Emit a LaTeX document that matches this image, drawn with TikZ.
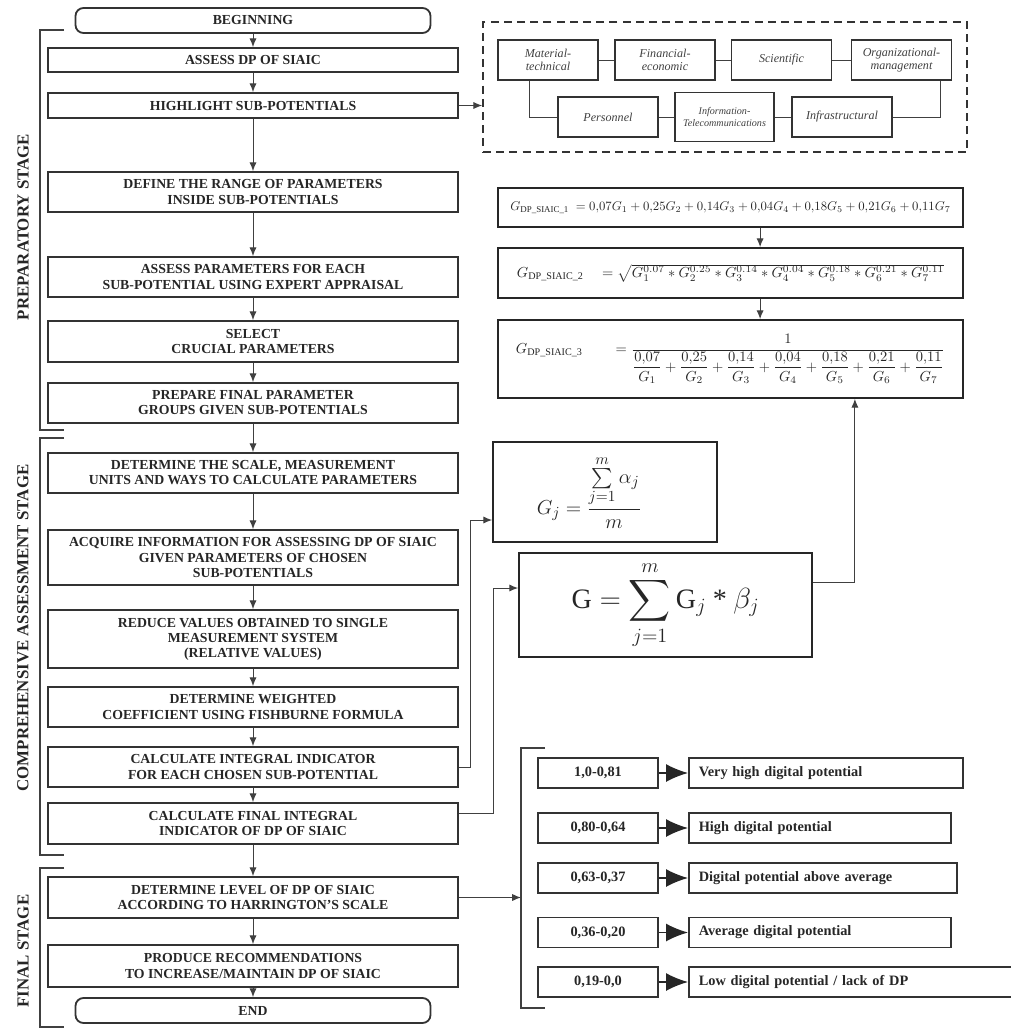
\documentclass[tikz,border=0pt]{standalone}
\usepackage{amsmath}
\usepackage{graphicx}
\usepackage{fontspec}
\setmainfont{Liberation Serif}
\usetikzlibrary{arrows.meta}

\begin{document}
\begin{tikzpicture}[x=0.25mm, y=-0.25mm,
	stepbox/.style={draw=black!80, line width=1.3pt, fill=white, text=black!85, align=center, inner sep=1pt, minimum width=102.5mm, font=\fontsize{9.8}{10.7}\selectfont\bfseries},
	termbox/.style={stepbox, rounded corners=2mm, minimum width=88.75mm, minimum height=6.25mm},
	flow/.style={draw=black!75, line width=0.7pt, -{Latex[length=2.2mm,width=1.8mm]}},
	link/.style={draw=black!75, line width=0.7pt},
	bracket/.style={draw=black!75, line width=1.1pt},
	subbox/.style={draw=black!80, line width=1.1pt, align=center, inner xsep=1pt, text=black!75, minimum width=25mm, font=\fontsize{8.6}{9.2}\selectfont\itshape},
	formbox/.style={draw=black!85, line width=1.3pt, minimum width=116.25mm, text=black!85},
	stage/.style={rotate=90, text=black!85, font=\fontsize{12}{14}\selectfont\bfseries},
	rangebox/.style={draw=black!80, line width=1.1pt, minimum width=30mm, minimum height=7.5mm, text=black!85, font=\fontsize{10.2}{12}\selectfont\bfseries},
	descbox/.style={draw=black!80, line width=1.1pt, minimum height=7.5mm, inner xsep=2.5mm, align=left, anchor=west, text=black!85, font=\fontsize{10.2}{12}\selectfont\bfseries},
	bigtip/.style={draw=black!85, line width=1pt, -{Latex[length=5.5mm,width=4.5mm]}}
	]
	\useasboundingbox (0,0) rectangle (1011,1030);
	\node[termbox] (b0) at (253,20.5) {BEGINNING};
	\node[stepbox, minimum height=6mm] (b1) at (253,60) {ASSESS DP OF SIAIC};
	\node[stepbox, minimum height=6.25mm] (b2) at (253,105.5) {HIGHLIGHT SUB-POTENTIALS};
	\node[stepbox, minimum height=10mm] (b3) at (253,192) {DEFINE THE RANGE OF PARAMETERS\\INSIDE SUB-POTENTIALS};
	\node[stepbox, minimum height=10mm] (b4) at (253,277) {ASSESS PARAMETERS FOR EACH\\SUB-POTENTIAL USING EXPERT APPRAISAL};
	\node[stepbox, minimum height=10.25mm] (b5) at (253,341.5) {SELECT\\CRUCIAL PARAMETERS};
	\node[stepbox, minimum height=10mm] (b6) at (253,403) {PREPARE FINAL PARAMETER\\GROUPS GIVEN SUB-POTENTIALS};
	\node[stepbox, minimum height=10mm] (b7) at (253,473) {DETERMINE THE SCALE, MEASUREMENT\\UNITS AND WAYS TO CALCULATE PARAMETERS};
	\node[stepbox, minimum height=13.75mm] (b8) at (253,557.5) {ACQUIRE INFORMATION FOR ASSESSING DP OF SIAIC\\GIVEN PARAMETERS OF CHOSEN\\SUB-POTENTIALS};
	\node[stepbox, minimum height=14.5mm] (b9) at (253,639) {REDUCE VALUES OBTAINED TO SINGLE\\MEASUREMENT SYSTEM\\(RELATIVE VALUES)};
	\node[stepbox, minimum height=10mm] (b10) at (253,707) {DETERMINE WEIGHTED\\COEFFICIENT USING FISHBURNE FORMULA};
	\node[stepbox, minimum height=10mm] (b11) at (253,767) {CALCULATE INTEGRAL INDICATOR\\FOR EACH CHOSEN SUB-POTENTIAL};
	\node[stepbox, minimum height=10.25mm] (b12) at (253,823.5) {CALCULATE FINAL INTEGRAL\\INDICATOR OF DP OF SIAIC};
	\node[stepbox, minimum height=10.25mm] (b13) at (253,897.5) {DETERMINE LEVEL OF DP OF SIAIC\\ACCORDING TO HARRINGTON’S SCALE};
	\node[stepbox, minimum height=10.5mm] (b14) at (253,966) {PRODUCE RECOMMENDATIONS\\TO INCREASE/MAINTAIN DP OF SIAIC};
	\node[termbox] (b15) at (253,1010.5) {END};
	\foreach \a/\b in {b0/b1, b1/b2, b2/b3, b3/b4, b4/b5, b5/b6, b6/b7, b7/b8, b8/b9, b9/b10, b10/b11, b11/b12, b12/b13, b13/b14, b14/b15}
	{\draw[flow] (\a.south) -- (\a.south |- \b.north);}
	
	\draw[bracket] (64,30) -- (40,30) -- (40,430) -- (64,430);
	\draw[bracket] (64,438) -- (40,438) -- (40,855) -- (64,855);
	\draw[bracket] (64,868) -- (40,868) -- (40,1027) -- (64,1027);
	\node[stage] (st1) at (23,227) {PREPARATORY STAGE};
	\node[stage] (st2) at (23,628) {COMPREHENSIVE ASSESSMENT STAGE};
	\node[stage] (st3) at (23,951) {FINAL STAGE};
	
	\node[draw=black!80, line width=1.2pt, dash pattern=on 2mm off 1.3mm, minimum width=121mm, minimum height=32.5mm] (sub) at (725,87) {};
	\node[subbox, minimum height=10mm] (m1) at (548,60) {Material-\\technical};
	\node[subbox, minimum height=10mm] (m2) at (665,60) {Financial-\\economic};
	\node[subbox, minimum height=10mm] (m3) at (781.5,60) {Scientific};
	\node[subbox, minimum height=10mm] (m4) at (901.5,60) {Organizational-\\management};
	\node[subbox, minimum height=10mm] (p1) at (608,117) {Personnel};
	\node[subbox, minimum height=12.25mm, minimum width=24.75mm, font=\fontsize{7.2}{8.4}\selectfont\itshape] (p2) at (724.5,117) {Information-\\Telecommunications};
	\node[subbox, minimum height=10mm] (p3) at (842,117) {Infrastructural};
	\draw[link] (m1) -- (m2) (m2) -- (m3) (m3) -- (m4) (p1) -- (p2) (p2) -- (p3);
	\draw[link] ([xshift=8mm]m1.south west) |- (p1.west);
	\draw[link] (p3.east) -| ([xshift=-3mm]m4.south east);
	\draw[flow] (b2.east) -- (b2.east -| sub.west);
	
	\node[formbox, minimum height=9.75mm] (f1) at (730.5,207.5) {\resizebox{110mm}{!}{$G_{\mathrm{DP\_SIAIC\_1}}\ =0{,}07G_1+0{,}25G_2+0{,}14G_3+0{,}04G_4+0{,}18G_5+0{,}21G_6+0{,}11G_7$}};
	\node[formbox, minimum height=12.5mm] (f2) at (730.5,273) {\resizebox{106.75mm}{!}{$G_{\mathrm{DP\_SIAIC\_2}}\quad = \sqrt{G_1^{0.07}\ast G_2^{0.25}\ast G_3^{0.14}\ast G_4^{0.04}\ast G_5^{0.18}\ast G_6^{0.21}\ast G_7^{0.11}}$}};
	\node[formbox, minimum height=19.5mm] (f3) at (730.5,359) {\resizebox{107.25mm}{!}{$G_{\mathrm{DP\_SIAIC\_3}}\qquad = \dfrac{1}{\dfrac{0{,}07}{G_1}+\dfrac{0{,}25}{G_2}+\dfrac{0{,}14}{G_3}+\dfrac{0{,}04}{G_4}+\dfrac{0{,}18}{G_5}+\dfrac{0{,}21}{G_6}+\dfrac{0{,}11}{G_7}}$}};
	\draw[flow] ([xshift=7.4mm]f1.south) -- ([xshift=7.4mm]f2.north);
	\draw[flow] ([xshift=7.4mm]f2.south) -- ([xshift=7.4mm]f3.north);
	
	\node[formbox, minimum width=56mm, minimum height=25mm, font=\fontsize{15}{18}\selectfont] (gj) at (605,492) {$G_j = \dfrac{\sum\limits_{j=1}^{m}\alpha_j}{m}$\hspace*{8mm}};
	\node[formbox, minimum width=73.25mm, minimum height=26mm, font=\fontsize{20}{24}\selectfont] (gs) at (665.5,605) {$\displaystyle \mathrm{G} = \sum_{j=1}^{m}\mathrm{G}_j \mathbin{\text{*}} \beta_j$};
	\draw[flow] (b11.east) -- ++(12,0) |- ([yshift=-7mm]gj.west);
	\draw[flow] ([yshift=2.5mm]b12.east) -- ++(35,0) |- ([yshift=4.25mm]gs.west);
	\draw[flow] ([yshift=5.75mm]gs.east) -| ([xshift=31.1mm]f3.south);
	
	\draw[bracket] (545,748) -- (521,748) -- (521,1008) -- (545,1008);
	\coordinate (hk) at (521,897.5);
	\draw[flow] (b13.east) -- (hk);
	\node[rangebox] (r1) at (598,773) {1,0-0,81};
	\node[rangebox] (r2) at (598,828) {0,80-0,64};
	\node[rangebox] (r3) at (598,878) {0,63-0,37};
	\node[rangebox] (r4) at (598,932.5) {0,36-0,20};
	\node[rangebox] (r5) at (598,982) {0,19-0,0};
	\node[descbox, text width=63.5mm] (d1) at (688,773) {Very high digital potential};
	\node[descbox, text width=60.5mm] (d2) at (688,828) {High digital potential};
	\node[descbox, text width=62mm] (d3) at (688,878) {Digital potential above average};
	\node[descbox, text width=60.5mm] (d4) at (688,932.5) {Average digital potential};
	\node[descbox, text width=76.25mm] (d5) at (688,982) {Low digital potential / lack of DP};
	\foreach \i in {1,...,5}
	{\draw[bigtip] (r\i) -- (d\i);}
\end{tikzpicture}
\end{document}
